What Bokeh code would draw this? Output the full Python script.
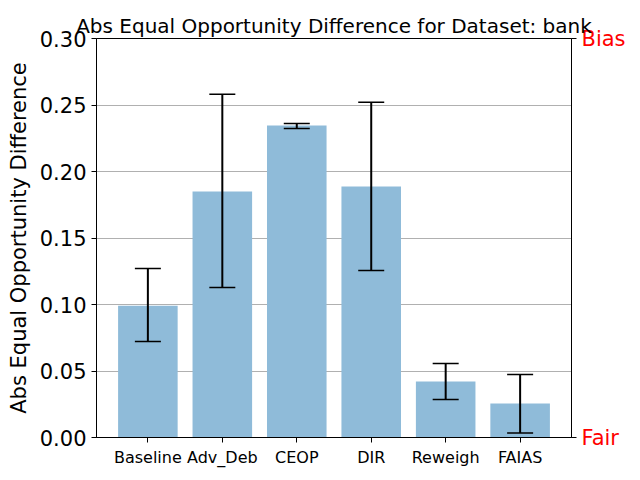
import numpy as np
from bokeh.plotting import figure
from bokeh.models import (ColumnDataSource, Range1d, FixedTicker, LinearAxis,
                          PrintfTickFormatter, Whisker, TeeHead)
from bokeh.embed import file_html
from bokeh.resources import INLINE

# ---- data ----
methods = ["Baseline", "Adv_Deb", "CEOP", "DIR", "Reweigh", "FAIAS"]
means = [0.099, 0.185, 0.2345, 0.1887, 0.0421, 0.0256]
upper = [0.127, 0.258, 0.236, 0.252, 0.0556, 0.0474]
lower = [0.0722, 0.1128, 0.2323, 0.1256, 0.0286, 0.0033]
y_ticks = [0.0, 0.05, 0.10, 0.15, 0.20, 0.25, 0.30]

x = list(range(len(methods)))
src = ColumnDataSource(dict(x=x, top=means, upper=upper, lower=lower))

FONT = "DejaVu Sans"

p = figure(width=632, height=472, output_backend="svg", toolbar_location=None,
           x_range=Range1d(-0.69, 5.69), y_range=Range1d(0, 0.30),
           min_border_left=96, min_border_right=61, min_border_top=38,
           min_border_bottom=35,
           title="Abs Equal Opportunity Difference for Dataset: bank")

p.title.text_font = FONT
p.title.text_font_size = "20px"
p.title.text_font_style = "normal"
p.title.text_color = "black"
p.title.align = "center"
p.title.standoff = 2
p.title.offset = 0

p.vbar(x="x", top="top", width=0.8, bottom=0, source=src,
       fill_color="#8fbbd9", line_color=None)

w = Whisker(base="x", upper="upper", lower="lower", source=src,
            line_color="black", line_width=2, level="overlay",
            upper_head=TeeHead(size=26, line_color="black", line_width=1.5),
            lower_head=TeeHead(size=26, line_color="black", line_width=1.5))
p.add_layout(w)

# axes styling
p.outline_line_color = "black"
p.outline_line_width = 1
p.xgrid.visible = False
p.ygrid.grid_line_color = "#b0b0b0"
p.ygrid.grid_line_width = 1
p.ygrid.ticker = FixedTicker(ticks=y_ticks)

p.xaxis.ticker = FixedTicker(ticks=x)
p.xaxis.major_label_overrides = {i: m for i, m in zip(x, methods)}
p.xaxis.major_label_text_font = FONT
p.xaxis.major_label_text_font_size = "16px"
p.xaxis.major_label_text_color = "black"
p.xaxis.minor_tick_line_color = None
p.xaxis.major_tick_in = 0
p.xaxis.major_tick_out = 5
p.xaxis.axis_line_color = "black"
p.xaxis.major_tick_line_color = "black"

p.yaxis.ticker = FixedTicker(ticks=y_ticks)
p.yaxis.formatter = PrintfTickFormatter(format="%.2f")
p.yaxis.major_label_text_font = FONT
p.yaxis.major_label_text_font_size = "21px"
p.yaxis.major_label_text_color = "black"
p.yaxis.minor_tick_line_color = None
p.yaxis.major_tick_in = 0
p.yaxis.major_tick_out = 5
p.yaxis.axis_line_color = "black"
p.yaxis.major_tick_line_color = "black"
p.yaxis.axis_label = "Abs Equal Opportunity Difference"
p.yaxis.axis_label_text_font = FONT
p.yaxis.axis_label_text_font_size = "21px"
p.yaxis.axis_label_text_font_style = "normal"
p.yaxis.axis_label_text_color = "black"
p.yaxis.axis_label_standoff = 6

right = LinearAxis(ticker=FixedTicker(ticks=[0.0, 0.3]))
right.major_label_overrides = {0: "Fair", 0.3: "Bias"}
right.major_label_text_font = FONT
right.major_label_text_font_size = "21px"
right.major_label_text_color = "red"
right.minor_tick_line_color = None
right.major_tick_in = 0
right.major_tick_out = 5
right.axis_line_color = "black"
right.major_tick_line_color = "black"
p.add_layout(right, "right")

open("out.html", "w").write(file_html(p, INLINE))
